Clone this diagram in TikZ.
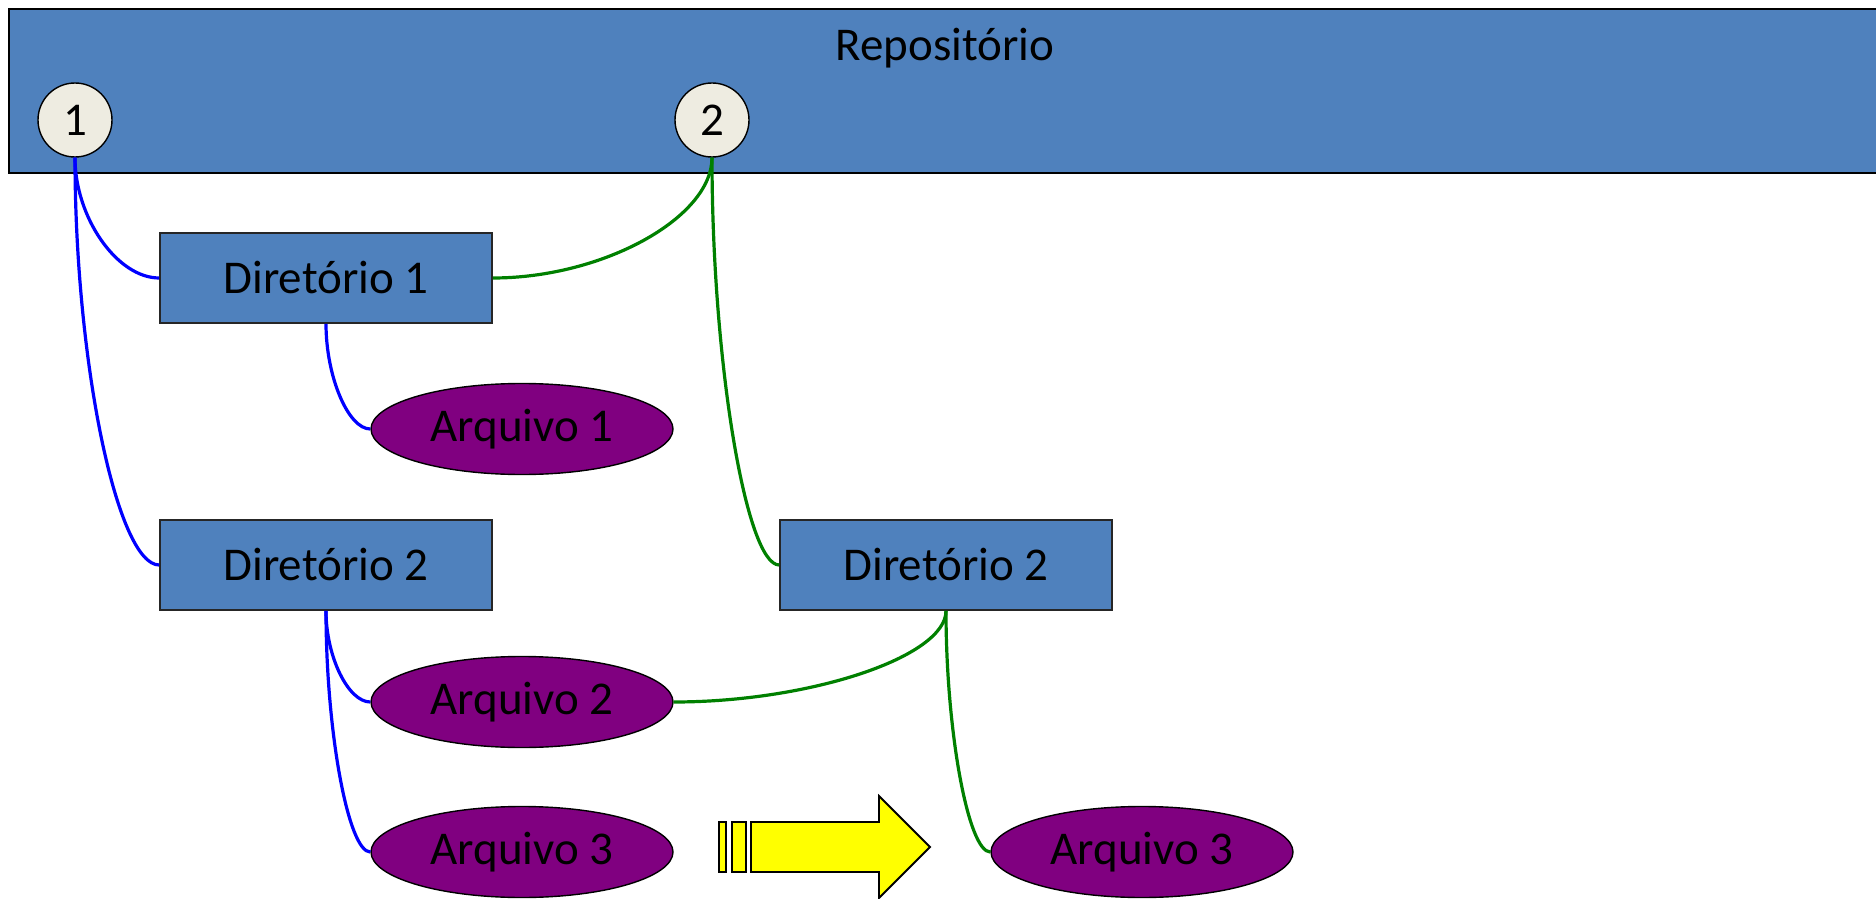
\documentclass[tikz,border=0pt]{standalone}
\usepackage{fontspec}
\setmainfont{Carlito}
\usepackage{amsmath}
\usetikzlibrary{shapes.geometric}

\definecolor{boxblue}{HTML}{4F81BD}
\definecolor{numfill}{HTML}{EEECE1}
\definecolor{filepurple}{HTML}{800080}
\definecolor{linkblue}{HTML}{0000FF}
\definecolor{linkgreen}{HTML}{008000}
\definecolor{arrowyellow}{HTML}{FFFF00}

\begin{document}
\begin{tikzpicture}[x=0.5pt, y=-0.5pt, font=\fontsize{23.5}{28}\selectfont,
		dir/.style={draw=black!85, line width=0.8pt, rectangle, fill=boxblue, minimum width=166pt, minimum height=45pt, inner sep=0pt},
		file/.style={draw=black, line width=0.7pt, ellipse, fill=filepurple, minimum width=151pt, minimum height=45.5pt, inner sep=0pt},
		num/.style={draw=black, line width=0.7pt, circle, fill=numfill, minimum size=37pt, inner sep=0pt},
		old/.style={linkblue, line width=1.6pt},
		new/.style={linkgreen, line width=1.6pt},
		bar/.style={draw=black, line width=0.9pt, fill=arrowyellow}]
				\useasboundingbox (0,0) rectangle (1876,899);
				\node[draw=black, line width=1pt, rectangle, fill=boxblue, anchor=north west, minimum width=950pt, minimum height=82pt, inner sep=0pt] (R)at(8, 8) {};
				\node (Rt)at(945, 48) {Repositório};
				\node[num] (N1)at(75, 120) {1};
				\node[num] (N2)at(712, 120) {2};
				\node[dir] (D1)at(326, 278) {Diretório 1};
				\node[file] (A1)at(522, 429) {Arquivo 1};
				\node[dir] (D2)at(326, 565) {Diretório 2};
				\node[file] (A2)at(522, 702) {Arquivo 2};
				\node[file] (A3)at(522, 852) {Arquivo 3};
				\node[dir] (E2)at(946, 565) {Diretório 2};
				\node[file] (B3)at(1142, 852) {Arquivo 3};
				% versao 1
				\draw[old] (N1.south) .. controls +(0, 60) and +(-42, 0) .. (D1.west);
				\draw[old] (N1.south) .. controls +(0, 204) and +(-42, 0) .. (D2.west);
				\draw[old] (D1.south) .. controls +(0, 53) and +(-22, 0) .. (A1.west);
				\draw[old] (D2.south) .. controls +(0, 46) and +(-22, 0) .. (A2.west);
				\draw[old] (D2.south) .. controls +(0, 121) and +(-22, 0) .. (A3.west);
				% versao 2
				\draw[new] (N2.south) .. controls +(0, 60) and +(110, 0) .. (D1.east);
				\draw[new] (N2.south) .. controls +(0, 204) and +(-33, 0) .. (E2.west);
				\draw[new] (E2.south) .. controls +(0, 46) and +(136, 0) .. (A2.east);
				\draw[new] (E2.south) .. controls +(0, 121) and +(-22, 0) .. (B3.west);
				% seta
				\draw[bar] (719, 822) rectangle (726, 872);
				\draw[bar] (732, 822) rectangle (746, 872);
				\draw[bar] (751, 822) -- (879, 822) -- (879, 796) -- (930, 847) -- (879, 898) -- (879, 872) -- (751, 872) -- cycle;
			\end{tikzpicture}
\end{document}
